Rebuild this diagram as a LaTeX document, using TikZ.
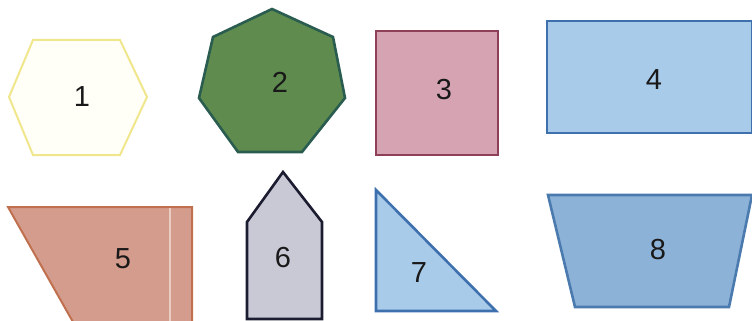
\documentclass[tikz,border=0pt]{standalone}
\usepackage{fontspec}
\setmainfont{Liberation Sans}
\usepackage{tikz}
\definecolor{hexyellow}{RGB}{240,230,140}
\definecolor{hexfill}{RGB}{255,255,248}
\definecolor{heptgreen}{RGB}{95,140,78}
\definecolor{heptedge}{RGB}{42,92,80}
\definecolor{sqpink}{RGB}{214,163,179}
\definecolor{sqedge}{RGB}{142,64,88}
\definecolor{lightblue}{RGB}{169,203,234}
\definecolor{blueedge}{RGB}{62,112,174}
\definecolor{quadfill}{RGB}{212,156,140}
\definecolor{quadedge}{RGB}{192,112,78}
\definecolor{pentfill}{RGB}{201,201,214}
\definecolor{pentedge}{RGB}{28,28,48}
\definecolor{trapfill}{RGB}{141,178,216}
\definecolor{trapedge}{RGB}{75,123,174}
\tikzset{
  shp/.style={line width=2pt, line join=miter},
  shpA/.style={shp, draw=hexyellow, fill=hexfill},
  shpB/.style={shp, draw=heptedge, fill=heptgreen, line width=2.6pt},
  shpC/.style={shp, draw=sqedge, fill=sqpink, line width=2.6pt},
  shpD/.style={shp, draw=blueedge, fill=lightblue, line width=2.6pt},
  shpE/.style={shp, draw=quadedge, fill=quadfill},
  shpF/.style={shp, draw=pentedge, fill=pentfill, line width=2.6pt},
  shpG/.style={shp, draw=trapedge, fill=trapfill, line width=2.6pt},
  lbl/.style={font=\fontsize{29}{32}\selectfont, inner sep=0pt, text=black!90},
}
\begin{document}
\begin{tikzpicture}[x=1pt, y=-1pt]
  \useasboundingbox (0,0) rectangle (752,321);
  % top row
  \draw[shpA] (33,40) -- (120,40) -- (147,97) -- (120,155) -- (33,155) -- (9,97) -- cycle;
  \node[lbl] (n1) at (82,97) {1};
  \draw[shpB] (272,9) -- (333,37) -- (345,98) -- (302,152) -- (238,152) -- (199,98) -- (213,37) -- cycle;
  \node[lbl] (n2) at (280,82) {2};
  \draw[shpC] (376,31) rectangle (498,155);
  \node[lbl] (n3) at (444,90) {3};
  \draw[shpD] (547,21) rectangle (752,133);
  \node[lbl] (n4) at (654,80) {4};
  % bottom row
  \draw[shpE] (8,207) -- (192,207) -- (192,322) -- (73,322) -- cycle;
  \draw[quadedge!35, line width=1.5pt] (170,208) -- (170,321);
  \node[lbl] (n5) at (123,259) {5};
  \draw[shpF] (283,172) -- (322,222) -- (322,319) -- (247,319) -- (247,222) -- cycle;
  \node[lbl] (n6) at (283,258) {6};
  \draw[shpD] (376,190) -- (496,311) -- (376,311) -- cycle;
  \node[lbl] (n7) at (419,273) {7};
  \draw[shpG] (548,195) -- (752,195) -- (729,307) -- (575,307) -- cycle;
  \node[lbl] (n8) at (658,250) {8};
\end{tikzpicture}
\end{document}
